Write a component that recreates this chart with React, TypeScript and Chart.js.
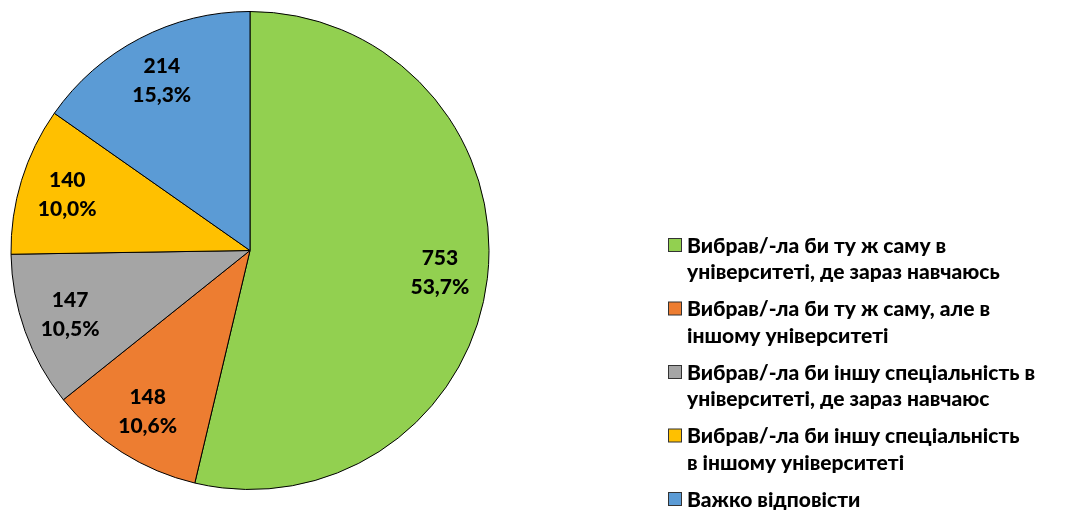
import React, { useEffect, useRef } from "react";
import { Chart, registerables } from "chart.js";

Chart.register(...registerables);

const categories: string[][] = [
  ["Вибрав/-ла би ту ж саму в", "університеті, де зараз навчаюсь"],
  ["Вибрав/-ла би ту ж саму, але в", "іншому університеті"],
  ["Вибрав/-ла би іншу спеціальність в", "університеті, де зараз навчаюс"],
  ["Вибрав/-ла би іншу спеціальність", "в іншому університеті"],
  ["Важко відповісти"],
];
const values: number[] = [753, 148, 147, 140, 214];
const colors: string[] = ["#92D050", "#ED7D31", "#A5A5A5", "#FFC000", "#5B9BD5"];

const FONT = "Lato, Carlito, Calibri, 'Open Sans', sans-serif";

const labelPlugin = {
  id: "sliceLabels",
  afterDatasetsDraw(chart: any) {
    const ctx = chart.ctx;
    const meta = chart.getDatasetMeta(0);
    const data = chart.data.datasets[0].data as number[];
    const total = data.reduce((a, b) => a + b, 0);
    ctx.save();
    ctx.font = `900 21px ${FONT}`;
    ctx.fillStyle = "#000";
    ctx.textAlign = "center";
    ctx.textBaseline = "middle";
    meta.data.forEach((arc: any, i: number) => {
      const p = arc.getProps(["x", "y", "startAngle", "endAngle", "outerRadius"], true);
      const mid = (p.startAngle + p.endAngle) / 2;
      const r = p.outerRadius * 0.8;
      const cx = p.x + Math.cos(mid) * r;
      const cy = p.y + Math.sin(mid) * r;
      const pct = ((data[i] / total) * 100).toFixed(1).replace(".", ",") + "%";
      ctx.fillText(String(data[i]), cx, cy - 14.5);
      ctx.fillText(pct, cx, cy + 14.5);
    });
    ctx.restore();
  },
};

const legendPlugin = {
  id: "customLegend",
  afterDraw(chart: any) {
    const ctx = chart.ctx;
    const labels = chart.data.labels as string[][];
    const bg = chart.data.datasets[0].backgroundColor as string[];
    ctx.save();
    ctx.font = `900 21px ${FONT}`;
    ctx.textAlign = "left";
    ctx.textBaseline = "middle";
    let y = 245;
    const lineH = 26.5;
    const gap = 10.5;
    labels.forEach((lines, i) => {
      ctx.fillStyle = bg[i];
      ctx.fillRect(668.5, y - 6.5, 13, 13);
      ctx.strokeStyle = "#333";
      ctx.lineWidth = 1;
      ctx.strokeRect(668.5, y - 6.5, 13, 13);
      ctx.fillStyle = "#000";
      lines.forEach((ln, j) => {
        ctx.fillText(ln, 687, y + j * lineH + 1);
      });
      y += lines.length * lineH + gap;
    });
    ctx.restore();
  },
};

export default function App() {
  const ref = useRef<HTMLCanvasElement | null>(null);
  useEffect(() => {
    document.body.style.margin = "0";
    const chart = new Chart(ref.current as HTMLCanvasElement, {
      type: "pie",
      data: {
        labels: categories as any,
        datasets: [
          {
            data: values,
            backgroundColor: colors,
            borderColor: "#000",
            borderWidth: 1,
          },
        ],
      },
      options: {
        responsive: false,
        animation: false,
        layout: { padding: { left: 10, right: 577, top: 11, bottom: 25 } },
        plugins: {
          legend: { display: false },
          tooltip: { enabled: false },
        },
      },
      plugins: [labelPlugin, legendPlugin],
    });
    return () => chart.destroy();
  }, []);
  return (
    <div style={{ position: "absolute", left: 0, top: 0, width: 1067, height: 515, background: "#fff" }}>
      <canvas ref={ref} width={1067} height={515} />
    </div>
  );
}
